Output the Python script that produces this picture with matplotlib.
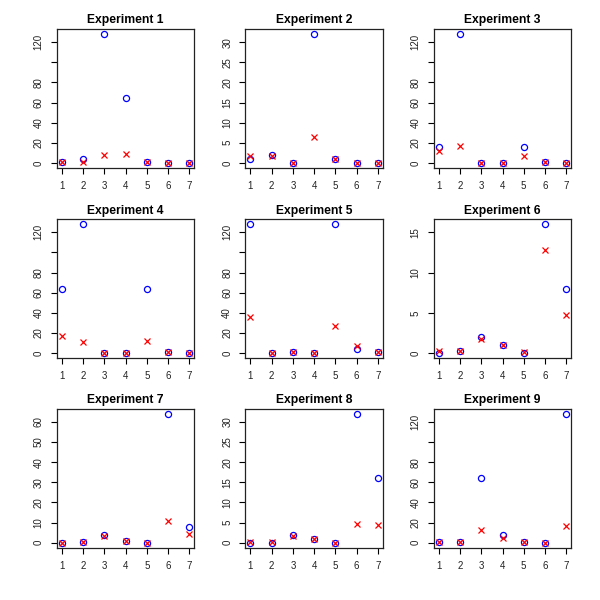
import matplotlib
matplotlib.use("Agg")
import matplotlib.pyplot as plt
import numpy as np

plt.rcParams['font.family'] = ['Liberation Sans', 'DejaVu Sans']

x = [1, 2, 3, 4, 5, 6, 7]

# blue circles (observed) and red crosses (estimated), one pair per experiment
blue = [
    [1, 4, 128, 64, 1, 0, 0],
    [1, 2, 0, 32, 1, 0, 0],
    [16, 128, 0, 0, 16, 1, 0],
    [64, 128, 0, 0, 64, 1, 0.5],
    [128, 0, 1, 0.5, 128, 4, 1],
    [0, 0.25, 2, 1, 0, 16, 8],
    [0, 0.25, 4, 1, 0, 64, 8],
    [0, 0, 2, 1, 0, 32, 16],
    [1, 1, 64, 8, 0.5, 0, 128],
]
red = [
    [1, 1, 8, 9, 1, 0, 0],
    [1.7, 1.8, 0, 6.5, 1, 0, 0],
    [11.5, 17, 0, 0, 6.5, 1, 0],
    [16.5, 11, 0, 0, 12, 1, 0.5],
    [35.5, 0, 1, 0.5, 27, 7, 1],
    [0.2, 0.3, 1.7, 1, 0.1, 12.8, 4.7],
    [0, 0.2, 3.2, 1, 0, 11, 4.3],
    [0.1, 0.1, 1.6, 1, 0, 4.7, 4.4],
    [1, 1, 13, 5, 0.5, 0, 17],
]
titles = ["Experiment %d" % (i + 1) for i in range(9)]
yticks = [
    [0, 20, 40, 60, 80, 100, 120],
    [0, 5, 10, 15, 20, 25, 30],
    [0, 20, 40, 60, 80, 100, 120],
    [0, 20, 40, 60, 80, 100, 120],
    [0, 20, 40, 60, 80, 100, 120],
    [0, 5, 10, 15],
    [0, 10, 20, 30, 40, 50, 60],
    [0, 5, 10, 15, 20, 25, 30],
    [0, 20, 40, 60, 80, 100, 120],
]

fig = plt.figure(figsize=(6, 6), dpi=100)
lefts = [0.095, 0.409, 0.723]
bottoms = [0.72, 0.403, 0.087]
w, h = 0.229, 0.2317

for i in range(9):
	r, c = divmod(i, 3)
	ax = fig.add_axes([lefts[c], bottoms[r], w, h])
	ax.plot(x, blue[i], 'o', mfc='none', mec='blue', ms=4.4, mew=0.9)
	ax.plot(x, red[i], 'x', color='red', ms=4.4, mew=0.9)
	lo = min(min(blue[i]), min(red[i]))
	hi = max(max(blue[i]), max(red[i]))
	pad = 0.04 * (hi - lo)
	ax.set_ylim(lo - pad, hi + pad)
	ax.set_xlim(1 - 0.24, 7 + 0.24)
	ax.set_xticks(x)
	ax.set_yticks(yticks[i])
	# R drops the label at 100 where it would overlap
	ax.set_yticklabels(["" if t == 100 else str(t) for t in yticks[i]],
		rotation=90, va='center')
	ax.tick_params(axis='both', direction='out', length=4.5, width=0.8,
		labelsize=7, pad=5, labelcolor='#222222')
	for s in ax.spines.values():
		s.set_linewidth(0.9)
		s.set_color('#222222')
	ax.set_title(titles[i], fontsize=8.7, fontweight='bold', pad=4)

fig.savefig("out.png", dpi=100)
